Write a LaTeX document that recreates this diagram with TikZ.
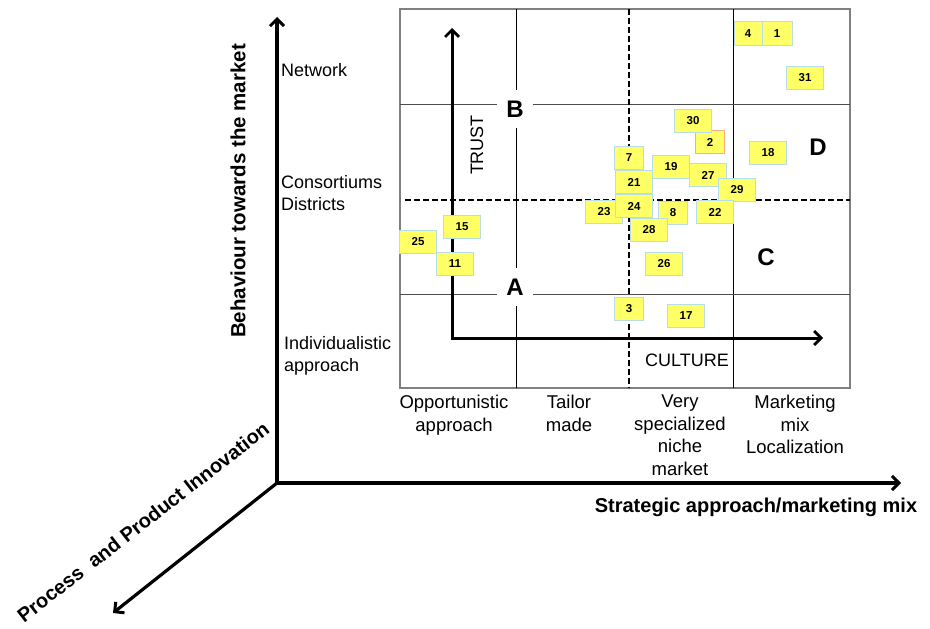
\documentclass[tikz,border=0pt]{standalone}
\usepackage{fontspec}
\setmainfont{Liberation Sans}
\usetikzlibrary{arrows.meta}
\definecolor{boxfill}{HTML}{FFFF66}
\definecolor{boxedge}{HTML}{B7DEE8}
\definecolor{peach}{HTML}{F4B183}
\definecolor{gridgray}{HTML}{808080}
\begin{document}
\begin{tikzpicture}[x=1pt,y=-1pt,
  lbl/.style={font=\fontsize{18}{22}\selectfont,inner sep=0pt},
  botlbl/.style={font=\fontsize{18.5}{22.5}\selectfont,inner sep=0pt,anchor=north,align=center},
  boldlbl/.style={font=\fontsize{20}{24}\selectfont\bfseries,inner sep=0pt},
  quadlbl/.style={font=\fontsize{24}{28}\selectfont\bfseries,inner sep=0pt},
  whitequad/.style={quadlbl,fill=white,minimum width=36pt,minimum height=38pt},
  pbox/.style={draw=boxedge,fill=boxfill,line width=0.8pt,minimum width=37pt,minimum height=23.5pt,inner sep=0pt,font=\fontsize{11.5}{13}\selectfont\bfseries},
  narrow/.style={minimum width=29pt},
  axis/.style={line width=3.2pt,-{Straight Barb[length=7pt,width=14pt,line width=3pt]}},
  inaxis/.style={line width=3pt,{Straight Barb[length=7pt,width=14pt,line width=2.8pt]}-{Straight Barb[length=7pt,width=14pt,line width=2.8pt]}},
  dashline/.style={line width=2pt,dash pattern=on 6pt off 3pt}
]
\useasboundingbox (0,0) rectangle (930,629);
% grid
\draw[gridgray,line width=1.5pt] (400,9) rectangle (850,388);
\draw[black,line width=1pt] (516,9) -- (516,388) (733,9) -- (733,388);
\draw[black!70,line width=1pt] (400,104) -- (850,104) (400,294) -- (850,294);
\draw[dashline] (629,9) -- (629,388);
\draw[dashline] (405,200) -- (850,200);
% quadrant labels
\node[whitequad] (qB) at (515,109) {B};
\node[whitequad] (qA) at (515,287) {A};
\node[quadlbl] (qC) at (766,257) {C};
\node[quadlbl] (qD) at (818,147) {D};
% inner axes
\coordinate (trusttip) at (452,28);
\coordinate (culttip) at (823,338);
\draw[inaxis] (trusttip) |- (culttip);
\node[lbl,rotate=90] (trust) at (477,145) {TRUST};
\node[lbl] (culture) at (687,360) {CULTURE};
% main axes
\coordinate (origin) at (277,483);
\coordinate (ytip) at (277,17);
\coordinate (xtip) at (901,483);
\coordinate (ztip) at (113,613);
\draw[axis] (origin) -- (ytip);
\draw[axis] (origin) -- (xtip);
\draw[axis] (origin) -- (ztip);
\node[boldlbl,rotate=90,font=\fontsize{20.5}{24}\selectfont\bfseries] (ylab) at (238,191) {Behaviour towards the market};
\node[boldlbl,anchor=base] (xlab) at (756,512) {Strategic approach/marketing mix};
\node[boldlbl,rotate=37.8] (zlab) at (143,522) {Process\ \ and Product Innovation};
% left labels
\node[lbl,anchor=west] (net) at (281,70) {Network};
\node[lbl,anchor=west,align=left] (cons) at (281,193.5) {Consortiums\\Districts};
\node[lbl,anchor=west,align=left] (indiv) at (284,356) {Individualistic\\approach};
% bottom labels
\node[botlbl] (opp) at (454,395) {Opportunistic\\approach};
\node[botlbl] (tail) at (569,395) {Tailor\\made};
\node[botlbl] (very) at (680,395) {Very\\specialized\\niche\\market};
\node[botlbl] (mkt) at (795,395) {Marketing\\mix\\Localization};
% data boxes
\node[pbox,narrow,draw=peach] (b2) at (710,142) {2};
\node[pbox] (b30) at (693,121) {30};
\node[pbox,minimum width=28pt] (b4) at (748,33.5) {4};
\node[pbox,minimum width=30pt] (b1) at (777,33.5) {1};
\node[pbox] (b31) at (805,78) {31};
\node[pbox] (b18) at (768,153) {18};
\node[pbox,narrow] (b7) at (629,158) {7};
\node[pbox] (b19) at (671,167) {19};
\node[pbox] (b21) at (634,182) {21};
\node[pbox] (b27) at (708,175) {27};
\node[pbox] (b29) at (737,190) {29};
\node[pbox] (b23) at (604,212) {23};
\node[pbox] (b24) at (634,206) {24};
\node[pbox,narrow] (b8) at (673,213) {8};
\node[pbox] (b22) at (715,212) {22};
\node[pbox] (b28) at (649,230) {28};
\node[pbox] (b26) at (664,264) {26};
\node[pbox,narrow] (b3) at (629,309) {3};
\node[pbox] (b17) at (686,316) {17};
\node[pbox] (b15) at (462,227) {15};
\node[pbox] (b25) at (418,242) {25};
\node[pbox] (b11) at (455,264) {11};
\end{tikzpicture}
\end{document}
